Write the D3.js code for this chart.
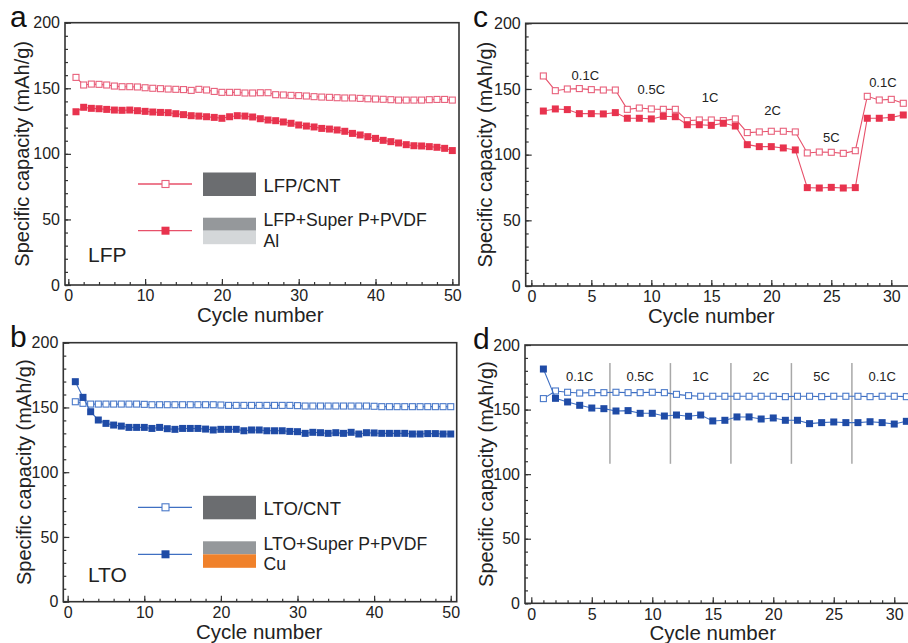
<!DOCTYPE html>
<html>
<head>
<meta charset="utf-8">
<script src="https://cdn.jsdelivr.net/npm/d3@7"></script>
<style>
  body { margin: 0; background: #fff; }
  svg { display: block; font-family: "Liberation Sans", Arial, sans-serif; }
</style>
</head>
<body>
<script>
// capacity values (mAh/g), one per cycle starting at cycle 1
var lfpCnt = [158.3, 152.5, 153.2, 153, 152.5, 151.7, 151.2, 151.2, 151, 150.4,
  150, 149.7, 149.4, 149.2, 149, 148.4, 149.2, 148.7, 147.6, 146.9,
  146.9, 146.9, 146.4, 146.4, 146.6, 146.6, 145.1, 144.9, 144.6, 144.4,
  144.1, 143.6, 143.3, 143.1, 142.8, 142.6, 142.6, 142.3, 142, 141.8,
  141.6, 141.3, 141, 141, 141, 141, 141.3, 141.5, 141.5, 141];
var lfpSp = [132.1, 135.5, 134.7, 134.4, 133.9, 133.4, 133.2, 133.4, 132.9, 132.4,
  131.9, 131.6, 131.4, 130.6, 129.9, 129.1, 128.8, 128.3, 127.8, 127.1,
  128.3, 129.1, 128.8, 128.1, 126.8, 125.8, 125.3, 124.3, 123.3, 122,
  121.2, 120.5, 119.4, 118.9, 118.2, 117.2, 115.6, 114.4, 113.1, 111.8,
  110.3, 109.3, 108.3, 107, 106.2, 106, 105.5, 105, 104.2, 102.5];

var lfpRateCnt = [159.9, 148.7, 150, 150.3, 149.5, 149.2, 149.2, 134.5, 135.5, 134.8,
  134.5, 134.5, 125.9, 126.4, 126.4, 125.9, 127.2, 116.8, 117.3, 117.8,
  117.8, 117.3, 101.3, 102, 101.8, 101, 103, 144.4, 141.6, 142.1, 139.1];
var lfpRateSp = [133.2, 134.8, 134.3, 131.2, 131.2, 131, 132, 127.7, 127.7, 127.2,
  129.2, 128.9, 122.8, 122.8, 122.3, 123.9, 121.8, 107.6, 106.1, 106.1,
  105.1, 103.6, 74.9, 74.6, 75.1, 74.6, 74.9, 127.7, 127.7, 128.4, 130.2];

var ltoCnt = [154.4, 153.2, 152.6, 152.6, 152.6, 152.6, 152.6, 152.6, 152.6, 152.4,
  152.1, 152.1, 152.1, 152.1, 152.1, 152.1, 152.1, 152.1, 152.1, 151.9,
  151.6, 151.6, 151.6, 151.6, 151.6, 151.6, 151.6, 151.6, 151.6, 151.4,
  151.1, 151.1, 151.1, 151.1, 151.1, 151.1, 151.1, 151.1, 151.1, 150.9,
  150.6, 150.6, 150.6, 150.6, 150.6, 150.6, 150.6, 150.6, 150.6, 150.6];
var ltoSp = [169.9, 157.8, 146.7, 140.3, 137.7, 136.4, 135.6, 134.6, 134.6, 134.6,
  133.8, 134.6, 133.6, 133.1, 133.8, 133.8, 133.8, 133.3, 132.6, 133.1,
  133.1, 133.1, 132, 132.6, 132.6, 132, 132, 132, 131.5, 131.3,
  130, 130.8, 130.5, 130, 130.5, 130, 130.8, 129.5, 130.5, 130.3,
  130, 130, 130, 130, 129.5, 129.5, 129.8, 129.8, 129.5, 129.5];

var ltoRateCnt = [158.5, 164.4, 163.4, 162.8, 163.1, 163.1, 163.4, 163.1, 163.1, 163.4,
  163.1, 161.8, 160.8, 160.3, 160.3, 160.3, 160.3, 160.3, 160.3, 160.3,
  160, 160.3, 160.3, 160, 160.3, 160.3, 160.3, 160, 160.3, 160.3, 160];
var ltoRateSp = [181.4, 158.7, 155.9, 153.3, 151.2, 150.7, 148.9, 149.2, 147.1, 147.1,
  145, 145.8, 144.8, 145.8, 141.2, 141.7, 144.3, 144.3, 142.7, 143.5,
  141.7, 141.7, 139.1, 139.9, 140.4, 139.9, 139.9, 140.6, 139.9, 138.8, 140.9];

// rate annotations
var rateNamesC = ["0.1C", "0.5C", "1C", "2C", "5C", "0.1C"];
var rateCycleC = [4.5, 10, 14.9, 20.1, 25, 29.3];
var rateValueC = [160.4, 149.5, 143.9, 134, 113, 155];
var rateNamesD = ["0.1C", "0.5C", "1C", "2C", "5C", "0.1C"];
var rateCycleD = [4, 9, 14, 19, 24, 29];
var rateSplitD = [6.5, 11.5, 16.5, 21.5, 26.5];

var yTicks = [0, 50, 100, 150, 200];

var red = { line: "#e7506a", fill: "#e8334e", open: "#e8607b" };
var blue = { line: "#3f6fc2", fill: "#1f4ba6", open: "#4a79c9" };

var svg = d3.select("body").append("svg")
    .attr("width", 908).attr("height", 643);

function panel(cfg) {
  var g = svg.append("g");
  var x = d3.scaleLinear().domain(cfg.xd).range([cfg.l, cfg.r]);
  var y = d3.scaleLinear().domain([0, 200]).range([cfg.b, cfg.t]);

  // minor ticks
  g.append("g").attr("transform", "translate(0," + cfg.b + ")")
      .call(d3.axisBottom(x).tickValues(d3.range(0, cfg.xmax + 0.1, cfg.xminor))
        .tickSize(-3).tickFormat(""))
      .call(function(s) { s.select(".domain").remove(); });
  g.append("g").attr("transform", "translate(" + cfg.l + ",0)")
      .call(d3.axisLeft(y).tickValues(d3.range(0, 201, 10)).tickSize(-3).tickFormat(""))
      .call(function(s) { s.select(".domain").remove(); });

  // major ticks
  var xa = g.append("g").attr("transform", "translate(0," + cfg.b + ")")
      .call(d3.axisBottom(x).tickValues(d3.range(0, cfg.xmax + 0.1, cfg.xmajor))
        .tickSize(-6).tickPadding(5));
  var ya = g.append("g").attr("transform", "translate(" + cfg.l + ",0)")
      .call(d3.axisLeft(y).tickValues(yTicks).tickSize(-6).tickPadding(5));
  [xa, ya].forEach(function(a) {
    a.select(".domain").remove();
    a.selectAll("text").attr("font-size", 16).attr("fill", "#222")
      .attr("font-family", "Liberation Sans, Arial, sans-serif");
  });
  g.selectAll(".tick line").attr("stroke", "#333").attr("stroke-width", 1.2);

  // frame
  g.append("rect")
      .attr("x", cfg.l).attr("y", cfg.t)
      .attr("width", cfg.r - cfg.l).attr("height", cfg.b - cfg.t)
      .attr("fill", "none").attr("stroke", "#333").attr("stroke-width", 1.6);

  // titles
  g.append("text")
      .attr("x", (x(0) + x(cfg.xmax)) / 2).attr("y", cfg.b + 37)
      .attr("text-anchor", "middle").attr("font-size", 20.5).attr("fill", "#222")
      .text("Cycle number");
  g.append("text")
      .attr("transform", "translate(" + cfg.ytx + "," + (cfg.t + cfg.b) / 2 + ") rotate(-90)")
      .attr("dy", "0.35em")
      .attr("text-anchor", "middle").attr("font-size", 20).attr("fill", "#222")
      .text("Specific capacity (mAh/g)");
  g.append("text")
      .attr("x", cfg.lx).attr("y", cfg.t + 4)
      .attr("font-size", 30).attr("fill", "#111")
      .text(cfg.letter);

  var line = d3.line()
      .x(function(d, i) { return x(i + 1); })
      .y(function(d) { return y(d); });

  // open series
  g.append("path").datum(cfg.open)
      .attr("d", line).attr("fill", "none")
      .attr("stroke", cfg.col.line).attr("stroke-width", 1.1);
  g.selectAll(".op").data(cfg.open).enter().append("rect")
      .attr("x", function(d, i) { return x(i + 1) - 3; })
      .attr("y", function(d) { return y(d) - 3; })
      .attr("width", 6).attr("height", 6)
      .attr("fill", "#fff").attr("stroke", cfg.col.open).attr("stroke-width", 1.1);

  // filled series
  g.append("path").datum(cfg.filled)
      .attr("d", line).attr("fill", "none")
      .attr("stroke", cfg.col.line).attr("stroke-width", 1.1);
  g.selectAll(".fp").data(cfg.filled).enter().append("rect")
      .attr("x", function(d, i) { return x(i + 1) - 3.5; })
      .attr("y", function(d) { return y(d) - 3.5; })
      .attr("width", 7).attr("height", 7)
      .attr("fill", cfg.col.fill);

  return { g: g, x: x, y: y };
}

function legend(p, cfg) {
  var g = p.g;
  var rows = [cfg.y1, cfg.y2];
  rows.forEach(function(yy, i) {
    g.append("line").attr("x1", 138).attr("x2", 192).attr("y1", yy).attr("y2", yy)
        .attr("stroke", cfg.col.line).attr("stroke-width", 1.3);
    if (i === 0) {
      g.append("rect").attr("x", 162).attr("y", yy - 3.5).attr("width", 7).attr("height", 7)
          .attr("fill", "#fff").attr("stroke", cfg.col.open).attr("stroke-width", 1.1);
    } else {
      g.append("rect").attr("x", 161.5).attr("y", yy - 4).attr("width", 8).attr("height", 8)
          .attr("fill", cfg.col.fill);
    }
  });
  g.append("rect").attr("x", 203).attr("y", cfg.y1 - 11.5).attr("width", 53).attr("height", 23.5)
      .attr("fill", "#6b6d70");
  g.append("rect").attr("x", 203).attr("y", cfg.y2 - 13).attr("width", 53).attr("height", 13)
      .attr("fill", "#95989b");
  g.append("rect").attr("x", 203).attr("y", cfg.y2).attr("width", 53).attr("height", 13.5)
      .attr("fill", cfg.sub);
  var names = [[cfg.names[0], cfg.y1 + 7.5], [cfg.names[1], cfg.y2 - 4.3], [cfg.names[2], cfg.y2 + 15.8]];
  names.forEach(function(n, i) {
    g.append("text").attr("x", 263.5).attr("y", n[1])
        .attr("font-size", i === 0 ? 18.5 : 17.6).attr("fill", "#222").text(n[0]);
  });
  g.append("text").attr("x", 88).attr("y", cfg.tagY)
      .attr("font-size", 21).attr("fill", "#222").text(cfg.tag);
}

var pa = panel({ l: 65, r: 459, t: 22.7, b: 285, xd: [-0.43, 50.87], xmax: 50, xmajor: 10, xminor: 2,
  ytx: 22, lx: 10, letter: "a", open: lfpCnt, filled: lfpSp, col: red });
legend(pa, { y1: 184, y2: 230.7, col: red, sub: "#d4d7d9",
  names: ["LFP/CNT", "LFP+Super P+PVDF", "Al"], tag: "LFP", tagY: 262 });

var pb = panel({ l: 63.3, r: 456.7, t: 342.7, b: 601.7, xd: [-0.57, 50.78], xmax: 50, xmajor: 10, xminor: 2,
  ytx: 24, lx: 10, letter: "b", open: ltoCnt, filled: ltoSp, col: blue });
legend(pb, { y1: 507.3, y2: 554.3, col: blue, sub: "#f0812a",
  names: ["LTO/CNT", "LTO+Super P+PVDF", "Cu"], tag: "LTO", tagY: 582 });

var pc = panel({ l: 525.7, r: 913, t: 23.3, b: 286, xd: [-0.47, 31.81], xmax: 30, xmajor: 5, xminor: 1,
  ytx: 485, lx: 473, letter: "c", open: lfpRateCnt, filled: lfpRateSp, col: red });
pc.g.selectAll(".rate").data(rateNamesC).enter().append("text")
    .attr("x", function(d, i) { return pc.x(rateCycleC[i]); })
    .attr("y", function(d, i) { return pc.y(rateValueC[i]); })
    .attr("dy", "0.36em").attr("text-anchor", "middle")
    .attr("font-size", 13).attr("fill", "#222").text(function(d) { return d; });

var pd = panel({ l: 525, r: 913, t: 345, b: 603.3, xd: [-0.52, 31.55], xmax: 30, xmajor: 5, xminor: 1,
  ytx: 486, lx: 473, letter: "d", open: ltoRateCnt, filled: ltoRateSp, col: blue });
pd.g.selectAll(".split").data(rateSplitD).enter().insert("line", "path")
    .attr("x1", function(d) { return pd.x(d); }).attr("x2", function(d) { return pd.x(d); })
    .attr("y1", pd.y(186)).attr("y2", pd.y(108))
    .attr("stroke", "#a8a8a8").attr("stroke-width", 1.5);
pd.g.selectAll(".rate").data(rateNamesD).enter().append("text")
    .attr("x", function(d, i) { return pd.x(rateCycleD[i]); })
    .attr("y", pd.y(176))
    .attr("dy", "0.36em").attr("text-anchor", "middle")
    .attr("font-size", 13).attr("fill", "#222").text(function(d) { return d; });
</script>
</body>
</html>
